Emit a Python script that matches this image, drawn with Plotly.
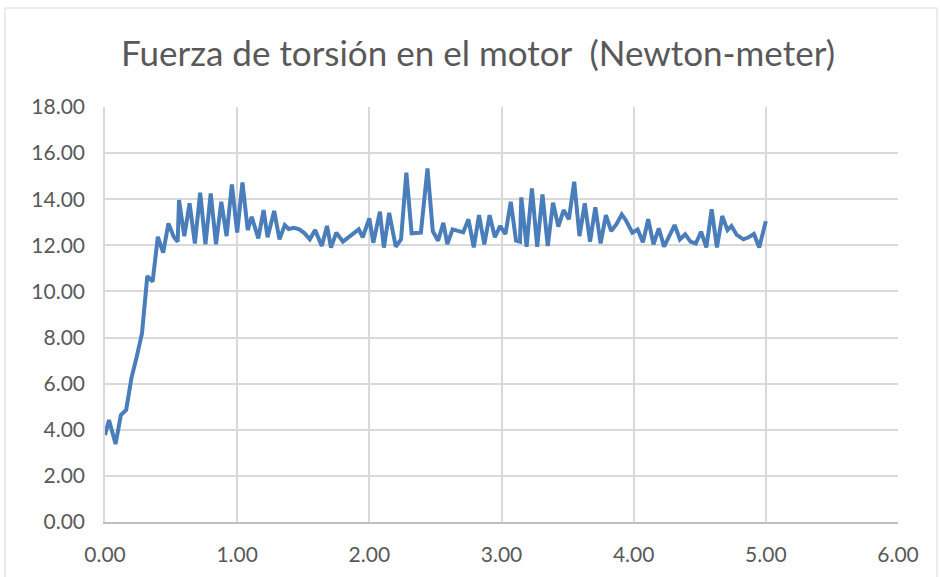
import plotly.graph_objects as go

# Time (s) and motor torque (N·m)
time_s = [
    0.00, 0.03, 0.08, 0.12, 0.16, 0.20, 0.24, 0.28, 0.32, 0.36,
    0.40, 0.44, 0.48, 0.52, 0.55, 0.56, 0.60, 0.64, 0.68, 0.72,
    0.76, 0.80, 0.84, 0.88, 0.92, 0.96, 1.00, 1.04, 1.08, 1.11,
    1.16, 1.20, 1.23, 1.28, 1.32, 1.36, 1.39, 1.43, 1.47, 1.51,
    1.55, 1.59, 1.64, 1.68, 1.71, 1.75, 1.80, 1.86, 1.92, 1.95,
    2.00, 2.03, 2.08, 2.11, 2.15, 2.20, 2.24, 2.28, 2.32, 2.39,
    2.44, 2.48, 2.52, 2.56, 2.59, 2.63, 2.67, 2.71, 2.75, 2.79,
    2.83, 2.87, 2.91, 2.95, 2.99, 3.03, 3.07, 3.11, 3.14, 3.15,
    3.19, 3.23, 3.27, 3.31, 3.35, 3.39, 3.43, 3.47, 3.51, 3.55,
    3.59, 3.63, 3.67, 3.71, 3.75, 3.79, 3.83, 3.87, 3.91, 3.94,
    3.99, 4.03, 4.07, 4.11, 4.15, 4.19, 4.23, 4.27, 4.31, 4.35,
    4.39, 4.43, 4.47, 4.51, 4.55, 4.59, 4.63, 4.67, 4.71, 4.74,
    4.78, 4.83, 4.87, 4.91, 4.95, 5.00,
]
torque_nm = [
    3.77, 4.42, 3.38, 4.64, 4.86, 6.24, 7.17, 8.19, 10.67, 10.42,
    12.37, 11.68, 12.95, 12.37, 12.16, 13.96, 12.40, 13.82, 12.08, 14.28,
    12.05, 14.25, 12.05, 13.89, 12.40, 14.64, 12.55, 14.73, 12.66, 13.24,
    12.30, 13.53, 12.35, 13.49, 12.26, 12.88, 12.71, 12.76, 12.69, 12.52,
    12.26, 12.66, 11.97, 12.84, 11.90, 12.55, 12.16, 12.45, 12.69, 12.35,
    13.17, 12.11, 13.46, 11.90, 13.41, 11.94, 12.26, 15.15, 12.52, 12.55,
    15.34, 12.62, 12.20, 12.98, 12.05, 12.69, 12.62, 12.56, 13.13, 11.91,
    13.31, 12.04, 13.31, 12.35, 12.84, 12.49, 13.89, 12.20, 12.16, 14.08,
    11.94, 14.47, 11.94, 14.21, 11.97, 13.85, 12.81, 13.53, 13.13, 14.76,
    12.40, 13.82, 12.16, 13.65, 12.08, 13.31, 12.62, 12.92, 13.34, 13.10,
    12.55, 12.69, 12.13, 13.13, 12.04, 12.74, 11.94, 12.40, 12.88, 12.26,
    12.48, 12.16, 12.08, 12.59, 11.91, 13.56, 11.91, 13.27, 12.66, 12.84,
    12.45, 12.26, 12.35, 12.49, 11.91, 13.05,
]

title_text = "Fuerza de torsión en el motor  (Newton-meter)"

FONT = "Lato"
GRID = "#d9d9d9"
TICK = "#595959"

fig = go.Figure(
    go.Scatter(
        x=time_s,
        y=torque_nm,
        mode="lines",
        line=dict(color="#4a7ebb", width=4),
        hoverinfo="x+y",
    )
)

L, R, T, B = 105, 42, 107, 55
W, H = 940, 577
pw, ph = W - L - R, H - T - B

fig.update_layout(
    width=W,
    height=H,
    margin=dict(l=L, r=R, t=T, b=B),
    paper_bgcolor="white",
    plot_bgcolor="white",
    showlegend=False,
    title=dict(
        text=title_text,
        x=478 / W,
        xanchor="center",
        y=1 - 54 / H,
        yanchor="middle",
        font=dict(family=FONT, size=35, color="#595959"),
    ),
    shapes=[
        dict(
            type="rect",
            xref="paper",
            yref="paper",
            x0=(5 - L) / pw,
            x1=(937 - L) / pw,
            y0=(H - B - 590) / ph,
            y1=(H - B - 8) / ph,
            line=dict(color=GRID, width=1),
            fillcolor="rgba(0,0,0,0)",
            layer="below",
        )
    ],
)

fig.update_xaxes(
    range=[0, 6],
    dtick=1,
    tickformat=".2f",
    showgrid=True,
    gridcolor=GRID,
    gridwidth=1.5,
    showline=True,
    linecolor="#bfbfbf",
    linewidth=1.5,
    zeroline=False,
    ticks="",
    ticklabelstandoff=13,
    tickfont=dict(family=FONT, size=21, color=TICK),
)
fig.update_yaxes(
    range=[0, 18],
    dtick=2,
    tickformat=".2f",
    showgrid=True,
    gridcolor=GRID,
    gridwidth=1.5,
    showline=True,
    linecolor=GRID,
    linewidth=1.5,
    zeroline=False,
    ticks="",
    ticklabelstandoff=14,
    tickfont=dict(family=FONT, size=21, color=TICK),
)

fig.write_html("out.html")
